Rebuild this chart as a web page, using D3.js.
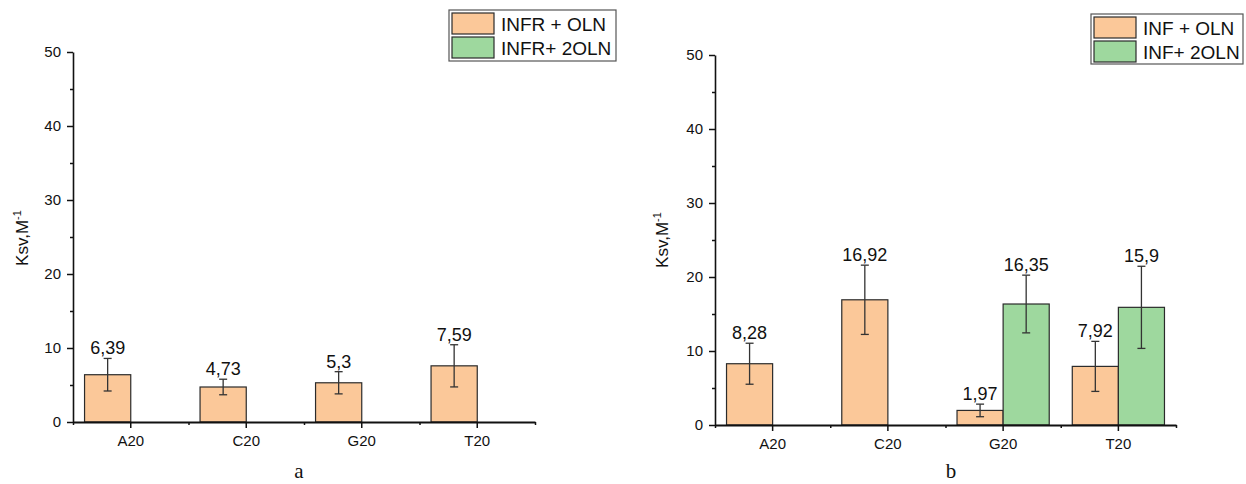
<!DOCTYPE html>
<html>
<head>
<meta charset="utf-8">
<script src="https://cdn.jsdelivr.net/npm/d3@7"></script>
<style>
  html, body { margin: 0; padding: 0; background: #fff; }
  svg { display: block; }
  text { font-family: "Liberation Sans", Arial, sans-serif; fill: #111; }
</style>
</head>
<body>
<svg id="chart" width="1246" height="484"></svg>
<script>
// ---------- data ----------
const categories = ["A20", "C20", "G20", "T20"];
const yTicks = [0, 10, 20, 30, 40, 50];
const yMinorTicks = [5, 15, 25, 35, 45];

// panel a
const aSeriesNames = ["INFR + OLN", "INFR+ 2OLN"];
const aOLN = [6.39, 4.73, 5.3, 7.59];
const aOLNerr = [2.2, 1.05, 1.5, 2.85];
const a2OLN = [null, null, null, null];
const a2OLNerr = [null, null, null, null];

// panel b
const bSeriesNames = ["INF + OLN", "INF+ 2OLN"];
const bOLN = [8.28, 16.92, 1.97, 7.92];
const bOLNerr = [2.77, 4.68, 0.85, 3.38];
const b2OLN = [null, null, 16.35, 15.9];
const b2OLNerr = [null, null, 3.9, 5.55];

const seriesColors = ["#FBC899", "#9ED89E"];

// ---------- layout ----------
const panels = [
  { x0: 73, x1: 535, y0: 422, y50: 52, labelX: 28, labelY: 238,
    names: aSeriesNames, values: [aOLN, a2OLN], errs: [aOLNerr, a2OLNerr],
    legend: { x: 449, y: 10, w: 167, h: 51 }, tag: "a", tagX: 299, tagY: 478 },
  { x0: 715, x1: 1176, y0: 425, y50: 55, labelX: 668, labelY: 240,
    names: bSeriesNames, values: [bOLN, b2OLN], errs: [bOLNerr, b2OLNerr],
    legend: { x: 1091, y: 14, w: 152, h: 50 }, tag: "b", tagX: 951, tagY: 478 }
];

const svg = d3.select("#chart");
const fmt = v => String(v).replace(".", ",");

panels.forEach(p => {
  const g = svg.append("g");
  const x = d3.scaleBand().domain(categories).range([p.x0, p.x1]).padding(0);
  const y = d3.scaleLinear().domain([0, 50]).range([p.y0, p.y50]);
  const bw = x.bandwidth() * 0.4;

  // bars
  p.values.forEach((vals, si) => {
    categories.forEach((c, i) => {
      const v = vals[i];
      if (v == null) return;
      const cx = x(c) + x.bandwidth() / 2;
      const bx = si === 0 ? cx - bw : cx;
      g.append("rect")
        .attr("x", bx).attr("y", y(v))
        .attr("width", bw).attr("height", y(0) - y(v))
        .attr("fill", seriesColors[si])
        .attr("stroke", "#2b2b2b").attr("stroke-width", 1.2);
    });
  });

  // error bars + labels
  p.values.forEach((vals, si) => {
    categories.forEach((c, i) => {
      const v = vals[i];
      if (v == null) return;
      const e = p.errs[si][i];
      const cx = x(c) + x.bandwidth() / 2;
      const mx = si === 0 ? cx - bw / 2 : cx + bw / 2;
      const eg = g.append("g").attr("stroke", "#333").attr("stroke-width", 1.3);
      eg.append("line").attr("x1", mx).attr("x2", mx).attr("y1", y(v + e)).attr("y2", y(v - e));
      eg.append("line").attr("x1", mx - 4).attr("x2", mx + 4).attr("y1", y(v + e)).attr("y2", y(v + e));
      eg.append("line").attr("x1", mx - 4).attr("x2", mx + 4).attr("y1", y(v - e)).attr("y2", y(v - e));
      g.append("text")
        .attr("x", mx).attr("y", y(v + e) - 4)
        .attr("text-anchor", "middle")
        .style("font-size", "18px")
        .text(fmt(v));
    });
  });

  // y axis
  const yAxis = d3.axisLeft(y).tickValues(yTicks).tickSize(6).tickSizeOuter(0).tickPadding(6);
  const ya = g.append("g").attr("transform", `translate(${p.x0},0)`).call(yAxis);
  const yMinor = d3.axisLeft(y).tickValues(yMinorTicks).tickSize(3).tickSizeOuter(0).tickFormat("");
  const ym = g.append("g").attr("transform", `translate(${p.x0},0)`).call(yMinor);
  ym.select(".domain").remove();

  // x axis
  const xAxis = d3.axisBottom(x).tickSize(6).tickSizeOuter(0).tickPadding(7);
  const xa = g.append("g").attr("transform", `translate(0,${p.y0})`).call(xAxis);
  const xMinorScale = d3.scaleLinear().domain([0, categories.length]).range([p.x0, p.x1]);
  const xMinor = d3.axisBottom(xMinorScale).tickValues(d3.range(0, categories.length + 1)).tickSize(3).tickSizeOuter(0).tickFormat("");
  const xm = g.append("g").attr("transform", `translate(0,${p.y0})`).call(xMinor);
  xm.select(".domain").remove();

  [ya, ym, xa, xm].forEach(a => {
    a.selectAll("path, line").attr("stroke", "#111").attr("stroke-width", 1.5);
    a.selectAll("text").style("font-size", "15px")
      .style("font-family", '"Liberation Sans", Arial, sans-serif').attr("fill", "#111");
  });
  ya.select(".domain").attr("stroke-width", 1.6);
  xa.select(".domain").attr("stroke-width", 2);

  // y label
  const yl = g.append("text")
    .attr("transform", `translate(${p.labelX},${p.labelY}) rotate(-90)`)
    .attr("text-anchor", "middle")
    .style("font-size", "17px");
  yl.append("tspan").text("Ksv,M");
  yl.append("tspan").attr("dy", -7).style("font-size", "11px").text("-1");

  // legend
  const L = p.legend;
  const lg = g.append("g");
  lg.append("rect").attr("x", L.x).attr("y", L.y).attr("width", L.w).attr("height", L.h)
    .attr("fill", "#fff").attr("stroke", "#555").attr("stroke-width", 1.2);
  p.names.forEach((n, i) => {
    const ry = L.y + 3 + i * 24;
    lg.append("rect").attr("x", L.x + 3).attr("y", ry).attr("width", 42).attr("height", 21)
      .attr("fill", seriesColors[i]).attr("stroke", "#2b2b2b").attr("stroke-width", 1.2);
    lg.append("text").attr("x", L.x + 52).attr("y", ry + 17.5)
      .style("font-size", "19px").text(n);
  });

  // panel tag
  g.append("text").attr("x", p.tagX).attr("y", p.tagY).attr("text-anchor", "middle")
    .style("font-family", '"Liberation Serif", "Times New Roman", serif')
    .style("font-size", "21px").text(p.tag);
});
</script>
</body>
</html>
